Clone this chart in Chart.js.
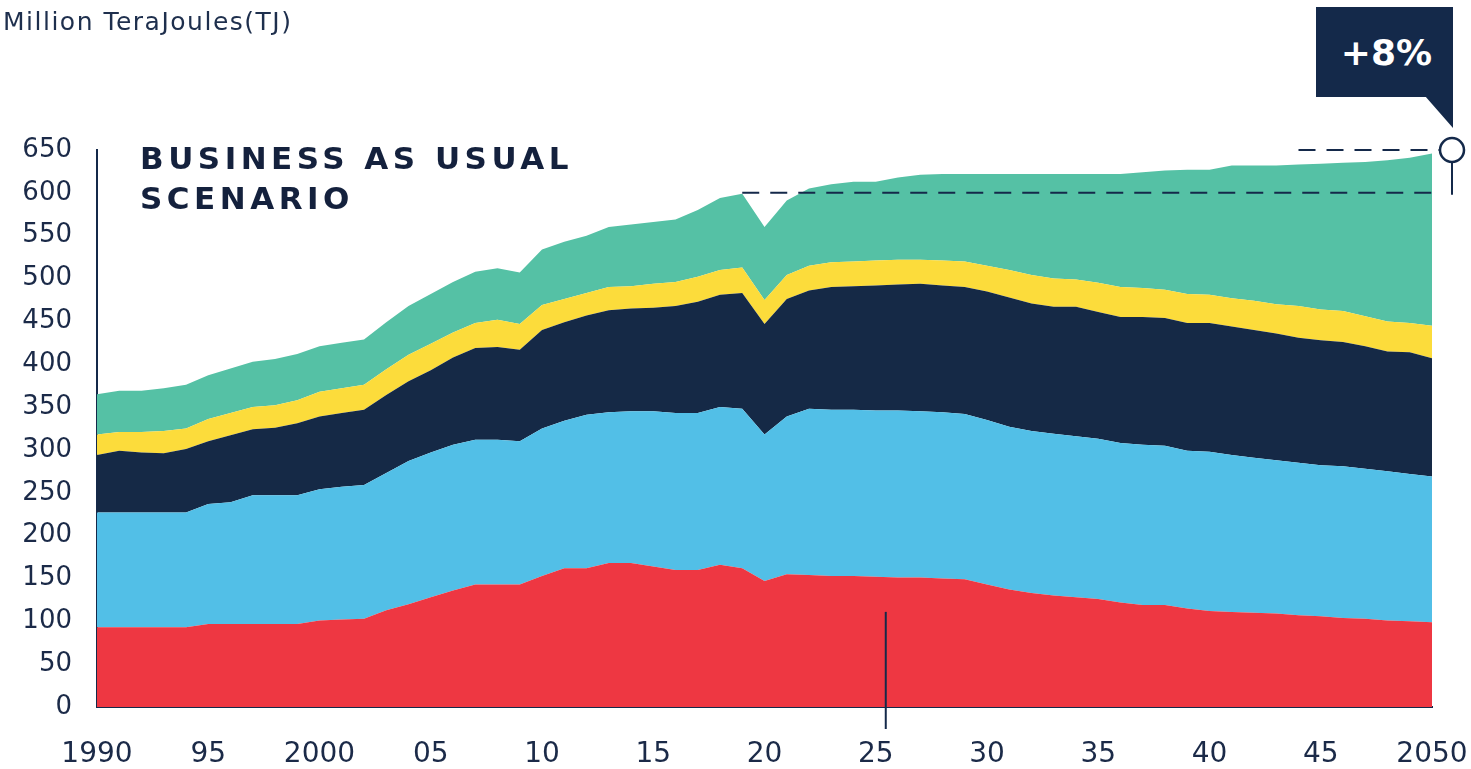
<!DOCTYPE html>
<html>
<head>
<meta charset="utf-8">
<script src="https://cdn.jsdelivr.net/npm/chart.js@4.4.1/dist/chart.umd.min.js"></script>
<style>
  body { margin: 0; background: #fff; }
  #wrap { position: relative; width: 1471px; height: 769px; overflow: hidden; }
  #chart { position: absolute; left: 0; top: 0; }
  .unit { position: absolute; left: 3px; top: 7px; font: 25px "DejaVu Sans"; letter-spacing: 1.5px; color: #1e2f4d; white-space: nowrap; }
  .title { position: absolute; left: 140px; top: 138px; font: bold 31px/40px "DejaVu Sans"; letter-spacing: 4.5px; color: #14213d; white-space: nowrap; }
  .callout { position: absolute; left: 1316px; top: 7px; width: 137px; height: 90px; background: #14294a; color: #fff;
    font: bold 36px "DejaVu Sans"; display: flex; align-items: center; justify-content: center; padding-left: 4px; box-sizing: border-box; }
  .tail { position: absolute; left: 1425px; top: 96px; width: 28px; height: 32px; background: #14294a;
    clip-path: polygon(0 0, 100% 0, 100% 100%); }
</style>
</head>
<body>
<div id="wrap">
  <canvas id="chart" width="1471" height="769"></canvas>
  <div class="unit">Million TeraJoules(TJ)</div>
  <div class="title">BUSINESS AS USUAL<br>SCENARIO</div>
  <div class="callout">+8%</div>
  <div class="tail"></div>
</div>
<script>
const years = []
for (let y = 1990; y <= 2050; y++) years.push(y)

const xTickLabels = ['1990', '95', '2000', '05', '10', '15', '20', '25', '30', '35', '40', '45', '2050']

// bottom layer first
const redSeries = [
  93, 93, 93, 93, 93, 97, 97, 97, 97, 97,
  101, 102, 103, 113, 120, 128, 136, 143, 143, 143,
  153, 162, 162, 168, 168, 164, 160, 160, 166, 162,
  147, 155, 154, 153, 153, 152, 151, 151, 150, 149,
  143, 137, 133, 130, 128, 126, 122, 119, 119, 115,
  112, 111, 110, 109, 107, 106, 104, 103, 101, 100,
  99
]
const blueSeries = [
  134, 134, 134, 134, 134, 140, 142, 150, 150, 150,
  153, 155, 156, 160, 167, 169, 170, 169, 169, 167,
  172, 172, 179, 176, 177, 181, 183, 183, 184, 186,
  171, 184, 194, 194, 194, 194, 195, 194, 194, 193,
  192, 190, 189, 189, 188, 187, 186, 187, 186, 184,
  186, 183, 181, 179, 178, 176, 177, 175, 174, 172,
  170
]
const navySeries = [
  67, 72, 70, 69, 74, 73, 78, 77, 79, 84,
  85, 86, 88, 91, 93, 96, 102, 107, 108, 107,
  115, 115, 116, 119, 120, 121, 125, 130, 131, 135,
  129, 137, 138, 143, 144, 146, 147, 149, 148, 148,
  150, 151, 149, 148, 151, 148, 147, 149, 149, 149,
  150, 150, 149, 148, 146, 146, 145, 143, 140, 142,
  138
]
const yellowSeries = [
  24, 22, 24, 26, 24, 26, 26, 26, 26, 27,
  29, 29, 29, 30, 31, 31, 29, 29, 32, 30,
  29, 27, 26, 27, 26, 28, 28, 29, 29, 30,
  28, 28, 29, 29, 29, 29, 29, 28, 29, 30,
  30, 32, 33, 33, 32, 34, 35, 34, 33, 34,
  33, 33, 34, 34, 37, 36, 36, 35, 35, 34,
  38
]
const greenSeries = [
  47, 48, 48, 50, 51, 51, 52, 53, 54, 54,
  53, 53, 53, 55, 57, 58, 59, 60, 60, 60,
  65, 67, 67, 70, 72, 72, 73, 78, 84, 86,
  85, 87, 90, 91, 93, 92, 96, 99, 101, 102,
  107, 112, 118, 122, 123, 127, 132, 135, 139, 145,
  146, 155, 158, 162, 165, 170, 173, 180, 188, 193,
  201
]

const seriesColors = ['#ee3742', '#52bfe7', '#152946', '#fcdc3b', '#55c1a5']
const navy = '#14294a'

// annotation anchors
const baseYear = 2019
const baseLevel = 600
const targetLevel = 650
const targetDashFrom = 2044
const markerYear = 2025.45
const markerTop = 111

const guides = {
  id: 'guides',
  afterDatasetsDraw(chart) {
    const { ctx, chartArea, scales: { x, y } } = chart
    const yBase = y.getPixelForValue(baseLevel)
    const yTarget = y.getPixelForValue(targetLevel)
    const cx = chartArea.right + 20
    const r = 12

    ctx.save()
    ctx.strokeStyle = navy
    ctx.lineWidth = 2

    ctx.setLineDash([17, 11])
    ctx.beginPath()
    ctx.moveTo(x.getPixelForValue(years.indexOf(baseYear)), yBase)
    ctx.lineTo(chartArea.right, yBase)
    ctx.moveTo(x.getPixelForValue(years.indexOf(targetDashFrom)), yTarget)
    ctx.lineTo(cx - r, yTarget)
    ctx.stroke()

    ctx.setLineDash([])
    ctx.beginPath()
    ctx.moveTo(cx, yTarget + r)
    ctx.lineTo(cx, yBase + 2)
    ctx.stroke()

    ctx.beginPath()
    ctx.arc(cx, yTarget, r, 0, Math.PI * 2)
    ctx.fillStyle = '#fff'
    ctx.fill()
    ctx.lineWidth = 2.5
    ctx.stroke()

    // "today" marker, a little past the 2025 tick
    const mx = x.getPixelForValue(markerYear - years[0])
    ctx.lineWidth = 2
    ctx.beginPath()
    ctx.moveTo(mx, y.getPixelForValue(markerTop))
    ctx.lineTo(mx, chartArea.bottom + 22)
    ctx.stroke()
    ctx.restore()
  }
}

const layers = [redSeries, blueSeries, navySeries, yellowSeries, greenSeries]

Chart.defaults.font.family = 'DejaVu Sans'
Chart.defaults.color = '#1b2a48'

new Chart(document.getElementById('chart'), {
  type: 'line',
  data: {
    labels: years,
    datasets: layers.map((d, i) => ({
      data: d,
      backgroundColor: seriesColors[i],
      borderWidth: 0,
      pointRadius: 0,
      fill: i === 0 ? 'origin' : '-1',
      tension: 0
    }))
  },
  options: {
    responsive: false,
    animation: false,
    devicePixelRatio: 1,
    layout: { padding: { top: 150, right: 39, left: 0, bottom: 0 } },
    plugins: { legend: { display: false }, tooltip: { enabled: false } },
    scales: {
      x: {
        offset: false,
        grid: { display: false, drawTicks: false },
        border: { display: true, color: navy, width: 2 },
        ticks: {
          autoSkip: false,
          maxRotation: 0,
          padding: 31,
          font: { size: 28 },
          callback: (v, i) => (years[i] - 1990) % 5 === 0 ? xTickLabels[(years[i] - 1990) / 5] : null
        },
        afterFit: s => {
          s.height = 62
          s.paddingLeft = 0
          s.paddingRight = 0
        }
      },
      y: {
        stacked: true,
        min: 0,
        max: 650,
        grid: { display: false, drawTicks: false },
        border: { display: true, color: navy, width: 2 },
        ticks: { stepSize: 50, padding: 25, font: { size: 26 } },
        afterFit: s => { s.width = 97 }
      }
    }
  },
  plugins: [guides]
})
</script>
</body>
</html>
